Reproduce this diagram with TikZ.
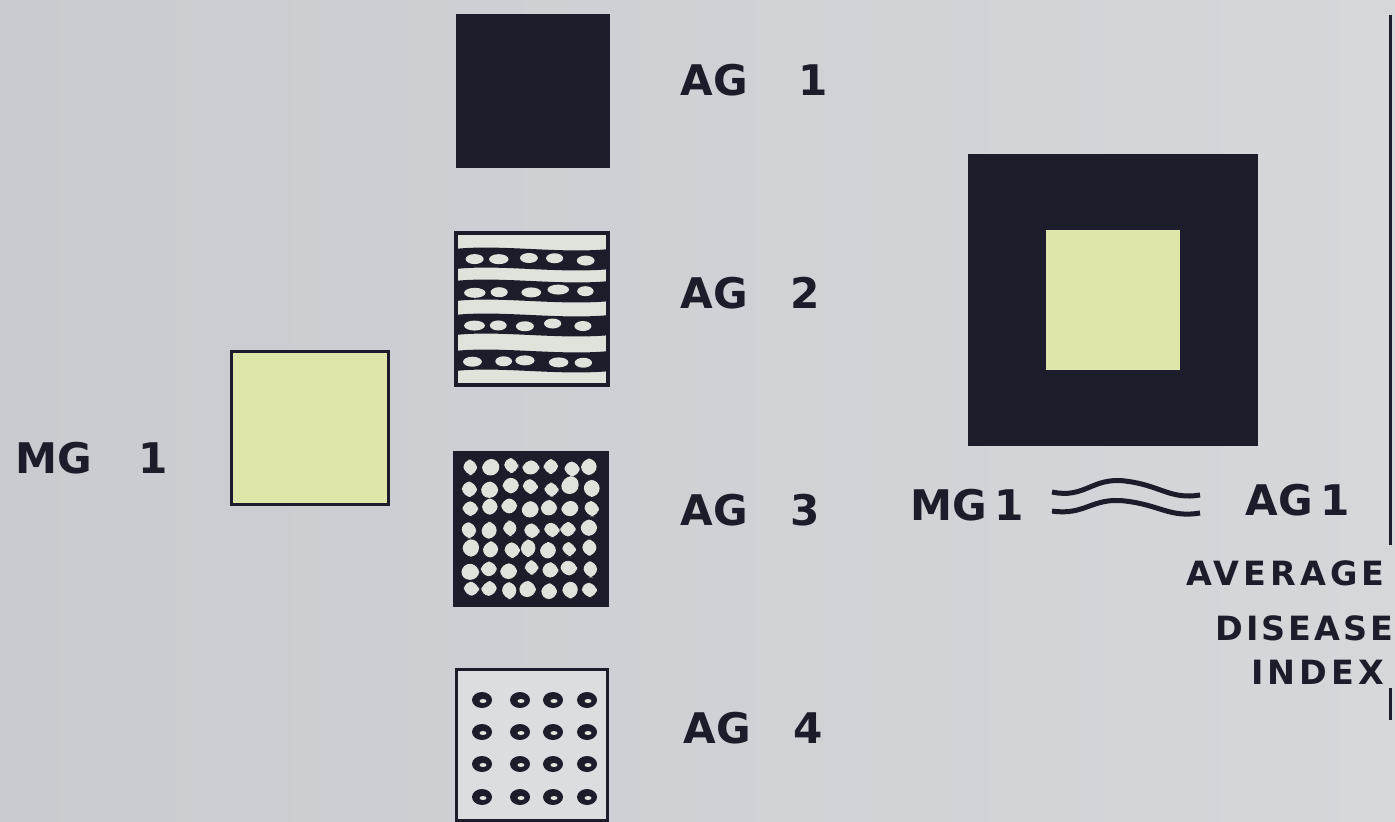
\documentclass[tikz,border=0pt]{standalone}
\usepackage{fontspec}
\setmainfont{DejaVu Sans}
\definecolor{paperL}{RGB}{202,203,208}
\definecolor{paperR}{RGB}{214,215,219}
\definecolor{ink}{RGB}{28,28,42}
\definecolor{lime}{RGB}{222,230,170}
\definecolor{chalk}{RGB}{224,226,220}

\begin{document}
\begin{tikzpicture}[x=0.01cm,y=-0.01cm,
    box/.style={draw=ink, line width=0.03cm, minimum width=1.5cm, minimum height=1.5cm, inner sep=0pt},
    lbl/.style={font=\bfseries\fontsize{12}{12}\selectfont, text=ink, inner sep=0pt, anchor=west},
    small/.style={font=\bfseries\fontsize{9.5}{9.5}\selectfont\addfontfeature{LetterSpace=12}, text=ink, inner sep=0pt}]
    % Paper
    \shade[left color=paperL, right color=paperR] (0,0) rectangle (1395,821);
    \useasboundingbox (0,0) rectangle (1395,821);

    % Main group
    \node[box, fill=lime, minimum width=1.56cm, minimum height=1.53cm] (mg1) at (310,428) {};
    \node[lbl] (mg1txt) at (15,458) {MG\hspace{1.1em}1};

    % AG 1
    \node[box, fill=ink] (ag1) at (533,91) {};
    \node[lbl] (ag1txt) at (680,80) {AG\hspace{1.2em}1};

    % AG 2
    \node[box, fill=chalk] (ag2) at (532,309) {};
    \begin{scope}
        \clip (ag2.south west) rectangle (ag2.north east);
        \pgfmathsetseed{11}
        \foreach \r in {259,291,325,361}{
            \draw[ink, line width=0.2cm] (455,\r) .. controls (500,\r-5) and (560,\r+5) .. (610,\r);
            \foreach \c in {472,500,528,556,584}{
                \pgfmathsetmacro\dx{4*rand}
                \pgfmathsetmacro\dy{2*rand}
                \pgfmathsetmacro\rx{8+3*rnd}
                \fill[chalk] (\c+\dx,\r+\dy) ellipse [x radius=\rx, y radius=5];
            }
        }
    \end{scope}
    \draw[ink, line width=0.03cm] (ag2.south west) rectangle (ag2.north east);
    \node[lbl] (ag2txt) at (680,293) {AG\hspace{1em}2};

    % AG 3
    \node[box, fill=ink] (ag3) at (531,529) {};
    \begin{scope}
        \clip (ag3.south west) rectangle (ag3.north east);
        \pgfmathsetseed{7}
        \foreach \i in {0,...,6}{
            \foreach \j in {0,...,6}{
                \pgfmathsetmacro\cx{470+\i*20+2*rand}
                \pgfmathsetmacro\cy{467+\j*20.5+2*rand}
                \pgfmathsetmacro\w{7+1.5*rnd}
                \pgfmathsetmacro\h{7+1.5*rnd}
                \fill[chalk, rounded corners=2.5pt] (\cx-\w,\cy-\h) -- (\cx+\w,\cy-\h+2*rand) -- (\cx+\w,\cy+\h) -- (\cx-\w+2*rand,\cy+\h) -- cycle;
            }
        }
    \end{scope}
    \draw[ink, line width=0.03cm] (ag3.south west) rectangle (ag3.north east);
    \node[lbl] (ag3txt) at (680,510) {AG\hspace{1em}3};

    % AG 4
    \node[box, fill=paperR!85!white] (ag4) at (532,745) {};
    \foreach \c in {482,520,553,587}{
        \foreach \r in {700,732,764,797}{
            \fill[ink] (\c,\r) ellipse [x radius=10, y radius=8];
            \fill[chalk] (\c+1,\r+1) ellipse [x radius=3.5, y radius=2];
        }
    }
    \node[lbl] (ag4txt) at (683,728) {AG\hspace{1em}4};

    % Combined square
    \node[box, fill=ink, minimum width=2.87cm, minimum height=2.89cm] (combo) at (1113,300) {};
    \node[fill=lime, inner sep=0pt, minimum width=1.33cm, minimum height=1.40cm] (core) at (1113,300) {};

    % MG1 ~ AG1
    \node[lbl] (mgeq) at (910,505) {MG\,1};
    \node[lbl] (ageq) at (1245,500) {AG\,1};
    \draw[ink, line width=0.05cm] (1052,492) .. controls (1085,499) and (1092,477) .. (1125,481) .. controls (1160,485) and (1170,500) .. (1200,495);
    \draw[ink, line width=0.05cm] (1052,511) .. controls (1085,516) and (1092,497) .. (1125,501) .. controls (1160,505) and (1170,518) .. (1200,513);

    \node[small, anchor=east] (avg) at (1385,573) {AVERAGE};
    \node[small, anchor=east, font=\bfseries\fontsize{9.5}{9.5}\selectfont\addfontfeature{LetterSpace=9}] (dis) at (1394,628) {DISEASE};
    \node[small, anchor=east] (idx) at (1385,672) {INDEX};

    % Frame edge
    \draw[ink, line width=0.03cm] (1390,15) -- (1390,545);
    \draw[ink, line width=0.03cm] (1390,688) -- (1390,720);
\end{tikzpicture}
\end{document}
